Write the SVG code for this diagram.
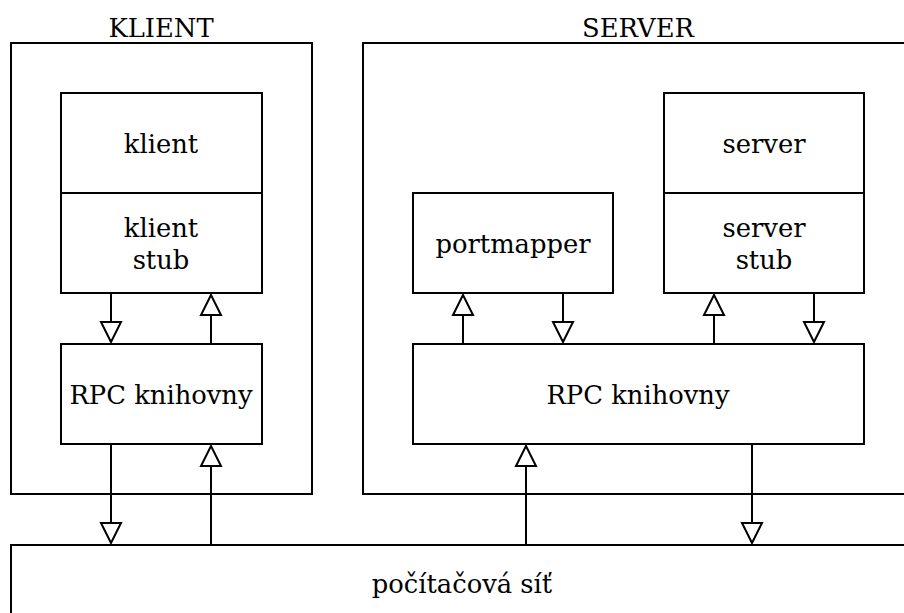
<svg xmlns="http://www.w3.org/2000/svg" width="904" height="613" viewBox="0 0 904 613">
<style>
rect{fill:none;stroke:#000;stroke-width:2}
text{font-family:"DejaVu Serif",serif;font-size:25.8px;fill:#000;text-anchor:middle}
.c line{stroke:#000;stroke-width:2}
.c path{fill:#fff;stroke:#000;stroke-width:2;stroke-linejoin:miter}
</style>
<rect width="904" height="613" style="fill:#fff;stroke:none"/>
<g id="klient-group">
<rect x="11" y="43" width="301" height="451"/>
<text x="161" y="37">KLIENT</text>
</g>
<g id="server-group">
<rect x="363" y="43" width="551" height="451"/>
<text x="638" y="37">SERVER</text>
</g>
<g id="klient"><rect x="61" y="93" width="201" height="100"/><text x="161" y="153">klient</text></g>
<g id="klient-stub"><rect x="61" y="193" width="201" height="100"/><text x="161" y="237">klient</text><text x="161" y="269">stub</text></g>
<g id="rpc-klient"><rect x="61" y="344" width="201" height="100"/><text x="161" y="404">RPC knihovny</text></g>
<g id="portmapper"><rect x="413" y="193" width="200" height="100"/><text x="513" y="253">portmapper</text></g>
<g id="server"><rect x="664" y="93" width="200" height="100"/><text x="764" y="153">server</text></g>
<g id="server-stub"><rect x="664" y="193" width="200" height="100"/><text x="764" y="237">server</text><text x="764" y="269">stub</text></g>
<g id="rpc-server"><rect x="413" y="344" width="451" height="100"/><text x="638" y="404">RPC knihovny</text></g>
<g id="sit"><rect x="11" y="545" width="903" height="100"/><text x="462" y="593">počítačová síť</text></g>
<g class="c" id="connectors">
<line x1="111" y1="293" x2="111" y2="322"/><path d="M101,322 L121,322 L111,342 Z"/>
<line x1="211" y1="344" x2="211" y2="315"/><path d="M201,315 L221,315 L211,295 Z"/>
<line x1="111" y1="444" x2="111" y2="523"/><path d="M101,523 L121,523 L111,543 Z"/>
<line x1="211" y1="545" x2="211" y2="466"/><path d="M201,466 L221,466 L211,446 Z"/>
<line x1="463" y1="344" x2="463" y2="315"/><path d="M453,315 L473,315 L463,295 Z"/>
<line x1="563" y1="293" x2="563" y2="322"/><path d="M553,322 L573,322 L563,342 Z"/>
<line x1="714" y1="344" x2="714" y2="315"/><path d="M704,315 L724,315 L714,295 Z"/>
<line x1="814" y1="293" x2="814" y2="322"/><path d="M804,322 L824,322 L814,342 Z"/>
<line x1="526" y1="545" x2="526" y2="466"/><path d="M516,466 L536,466 L526,446 Z"/>
<line x1="752" y1="444" x2="752" y2="523"/><path d="M742,523 L762,523 L752,543 Z"/>
</g>
</svg>
